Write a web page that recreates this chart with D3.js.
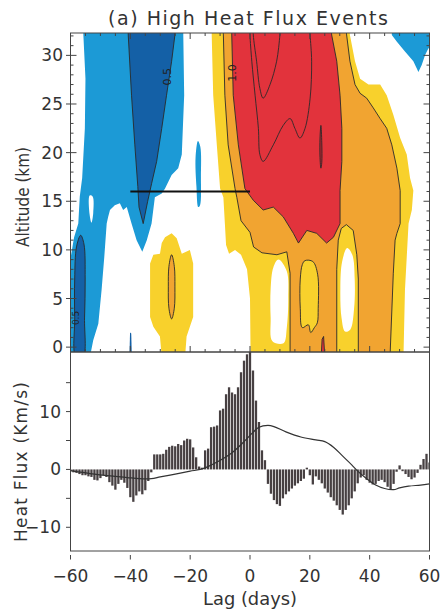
<!DOCTYPE html>
<html><head><meta charset="utf-8">
<script src="https://cdn.jsdelivr.net/npm/d3@7"></script>
<style>body{margin:0;background:#fff}svg{display:block}</style>
</head><body>
<svg id="c" width="442" height="612"></svg>
<script>
// ---------- DATA ----------
const lags = d3.range(-60, 61);
const heatFlux = [
 -0.3,-0.5,-0.6,-0.8,-1.0,-1.0,-1.2,-1.3,-1.8,-1.9,-1.5,-1.0,-1.3,-2.2,-2.8,-3.5,-2.5,-1.8,-2.3,-3.2,
 -4.8,-5.6,-4.5,-3.8,-4.3,-3.6,-2.0,-0.5,
 2.6,2.6,2.6,2.7,3.4,3.9,4.1,4.0,4.4,4.2,5.0,5.3,5.2,3.8,2.1,0.5,0.3,
 3.3,3.6,7.3,7.4,7.6,10.2,10.5,13.0,14.2,13.3,13.0,14.2,16.8,18.8,19.9,20.3,
 17.1,11.9,8.2,3.3,1.6,
 -2.5,-4.2,-5.3,-6.0,-6.3,-5.0,-4.3,-3.8,-3.3,-2.8,-2.4,-2.0,-1.6,0.3,-1.0,-2.6,-1.2,-1.8,-2.4,-3.3,
 -4.0,-4.8,-5.4,-6.2,-7.0,-7.8,-7.0,-6.2,-5.0,-3.8,-2.4,-1.4,-1.0,-1.8,-2.3,-2.6,-2.5,-2.0,-1.8,-2.2,
 -3.0,-3.5,-2.5,-0.4,0.7,-0.3,-0.8,-1.3,-1.7,-1.4,-0.6,0.8,1.8,2.7,1.2
];
const meanLine = [[-60,-0.2],[-52,-0.8],[-45,-1.2],[-41,-1.4],[-37,-1.6],[-33,-1.6],[-30,-1.3],[-25,-0.8],
 [-20,-0.3],[-16,0.1],[-11,1.3],[-6,2.9],[-2,4.8],[1,6.4],[3,7.3],[6,7.6],[8,7.4],[12,6.5],[17,5.6],
 [22,5.1],[25,4.8],[28,3.8],[31,2.3],[34,0.8],[36,-0.3],[39,-1.6],[42,-2.7],[45,-3.3],[48,-3.5],
 [50,-3.2],[53,-2.9],[57,-2.7],[60,-2.5]];
const lagTicks = [-60,-40,-20,0,20,40,60];
const altTicks = [0,5,10,15,20,25,30];
const fluxTicks = [-10,0,10];

// contour regions [lag, altitude]
const lightBlueLeft = [[-55.7,33],[-22.3,33],[-22.3,32.1],[-22.0,25.9],[-22.8,19.8],[-24,18.4],[-26.2,17.7],[-28.4,16.3],[-29.5,15.8],[-31.8,15.4],[-32.9,12.7],[-34.5,11],[-36,9.8],[-37.9,11],[-39.6,12.7],[-41.2,14.4],[-42.4,14.1],[-43.5,14.8],[-45.2,14.6],[-46.8,14.1],[-47.4,13.4],[-47.9,12.7],[-48.7,9.3],[-49.6,5.9],[-50.7,2.4],[-52.4,0.7],[-53.5,-1],[-61,-1],[-61,9.3],[-59.9,9.3],[-58.8,11.3],[-57.4,12.7],[-56.9,15.5],[-56.1,17.4],[-55.2,22.5],[-55,27.6],[-55.7,32.1]];
const whiteNotch = [[-53.6,15.6],[-52.6,15.5],[-52.4,13.8],[-53,12.8],[-53.6,13.6]];
const lightBlueSliver = [[-17.4,21.2],[-16.6,20.6],[-16.4,17.5],[-16.7,14.6],[-17.3,14.4],[-17.9,16.5],[-18.2,19.5]];
const lightBlueCorner = [[47.4,33],[47.4,32.1],[49.1,31.4],[51.8,30.4],[54.6,29.4],[56.3,28.3],[57.4,29],[58.5,30],[59.6,30.7],[61,31],[61,33]];
const darkBlueUpper = [[-25,33],[-25.1,32.1],[-26.2,29.4],[-27.9,25.9],[-29.5,22.5],[-31.2,19.1],[-32.9,16.8],[-34.2,15],[-35.7,12.7],[-37.1,14.4],[-37.5,16.5],[-38.5,20.8],[-39.6,25.9],[-40.7,32.1],[-40.7,33]];
const darkBlueLow = [[-56.6,11.5],[-55.5,10.6],[-55.1,7],[-55.3,3],[-55.8,-1],[-58.2,-1],[-58.6,3],[-58.6,7],[-58.0,10.3]];
const darkBlueSpike = [[-40.3,-1],[-40.1,1.5],[-39.7,1.4],[-39.5,-1]];
const yellowMain = [[-12.8,33],[-12.8,32.1],[-12.3,25.9],[-11.1,20.8],[-10,16.3],[-8.9,15.4],[-8.4,12.7],[-8,10.5],[-7,9.6],[-5,10],[-3,9.5],[-1,8],[0,5],[0.2,-1],[51.3,-1],[51.8,5.9],[52.4,9.3],[53,12.7],[54.1,14.1],[54.6,16.1],[53.5,17.4],[52.4,19.8],[50.2,21.5],[47.9,23.9],[45.7,25.9],[43.5,27],[39.6,27],[36.8,27.6],[35.1,29.4],[33.4,32.1],[33.2,33]];
const whiteHoleA = [[9.5,9],[12.3,7.8],[12.8,5],[12.3,2],[11.2,0.4],[7.5,0.6],[6.9,3],[6.9,6],[7.8,8.2]];
const yellowLobe = [[-26.2,11.7],[-24.5,11.2],[-22.8,9.6],[-20.1,10],[-19,8.6],[-19,3.1],[-20.1,2.1],[-21.2,1.1],[-21.7,-1],[-29.5,-1],[-30.1,1.1],[-32.3,2.1],[-33.4,3.1],[-33.4,8.6],[-32.3,9.5],[-30.1,9.6],[-29.5,10.7],[-28.4,11.3]];
const orangeLobe = [[-26.2,9.5],[-25.3,8.3],[-25.1,6.2],[-25.3,4],[-26.2,2.9],[-27.1,4],[-27.3,6.2],[-27.1,8.3]];
const orangeMain = [[-9.0,33],[-8.9,32.1],[-8.4,25.9],[-7.3,20.8],[-5,16.3],[-4.4,15.4],[-3,13],[0,11.8],[1.2,10.3],[4,9.7],[9,9.5],[12.3,9.8],[13.4,7.6],[13.4,-1],[46.8,-1],[47.9,7.6],[48.5,11],[49.1,11.7],[50.2,12.7],[50.2,16.1],[49.1,18.4],[47.4,20.8],[45.7,22.5],[43.5,23.5],[41.2,24.6],[39,25.6],[36.8,26.1],[35.1,27],[33.4,29.4],[32.3,32.1],[32,33]];
const redMain = [[-6.1,33],[-6.1,32.1],[-5.6,25.9],[-3.9,20.8],[-1.7,16.3],[1.1,15.1],[4.4,14.1],[7.8,14.4],[11.1,13.4],[14.5,11.7],[16.2,10.7],[19,12],[22.3,11.7],[25.6,10.7],[27.9,11.3],[30.1,12.7],[30.1,16.1],[30.7,19.1],[30.7,22.5],[30.1,25.9],[29,29.4],[27.3,32.1],[27,33]];
const yellowIsland = [[18.4,8.9],[21,8.8],[22.6,7.5],[22.8,4],[22.5,2.5],[21.5,2],[20.3,1.5],[19.5,2.3],[17.5,2],[16.8,4],[16.8,7],[17.5,8.5]];
const yellowRightBand = [[29,-1],[29,8],[29.5,11],[30.5,12.2],[32.2,12.6],[34.5,12],[35.7,9.5],[36.2,7],[36.2,-1]];
const whiteHoleB = [[32.5,10.2],[34.2,9.5],[35,7],[34.8,4],[33.5,1.8],[31.8,1.6],[30.6,3],[30.2,6],[30.8,8.8]];
const redSpike = [[23.8,-1],[24.1,0.8],[24.6,1.1],[25.0,-1]];
const redInner1 = [[0,33],[0,32.1],[0.6,29.4],[1.7,25.9],[2.8,22.5],[3.3,19.8],[4.4,19.1],[7.8,20.8],[11.1,22.8],[13.4,23.5],[15,22.5],[16.7,21.5],[18.4,22.5],[20.1,25.6],[20.6,29.4],[20.1,32.1],[20,33]];
const redInner2 = [[1.1,33],[1.1,32.1],[2.2,29.4],[3.3,26.6],[4.4,25.6],[6.7,27],[8.9,29.4],[10,32.1],[10.2,33]];
const redSliver = [[23.7,22.8],[24,21],[24,19],[23.7,18.4],[23.4,19.5],[23.4,21.5]];
const refLine = [[-40,16],[0,16]];
const contourLabels = [{lag:-27.4,alt:27.8,text:"0.5"},{lag:-5.6,alt:28.2,text:"1.0"},{lag:-58.3,alt:3.0,text:"0.5"}];

// ---------- DRAW ----------
const C = {lb:"#1c9ad6", db:"#1460a6", ye:"#f8d12c", or:"#f1a431", re:"#e2333c", line:"#2a2a2a"};
const FONT = "DejaVu Sans, sans-serif";
const svg = d3.select("#c");
const x = d3.scaleLinear().domain([-60,60]).range([70.5,429.5]);
const yT = d3.scaleLinear().domain([-0.5,32.3]).range([352,33]);
const yB = d3.scaleLinear().domain([-14.1,20.3]).range([551,352]);

const defs = svg.append("defs");
defs.append("clipPath").attr("id","cT").append("rect").attr("x",70.5).attr("y",33).attr("width",359).attr("height",319);
defs.append("clipPath").attr("id","cB").append("rect").attr("x",70.5).attr("y",352).attr("width",359).attr("height",199);

const topG = svg.append("g").attr("clip-path","url(#cT)");
const closedLin = d3.line().x(d=>x(d[0])).y(d=>yT(d[1])).curve(d3.curveLinearClosed);
const closedSm = d3.line().x(d=>x(d[0])).y(d=>yT(d[1])).curve(d3.curveCatmullRomClosed.alpha(0.5));
const openSm = d3.line().x(d=>x(d[0])).y(d=>yT(d[1])).curve(d3.curveCatmullRom.alpha(0.5));

function region(data, fill, stroke, smooth){
  topG.append("path").attr("d",(smooth?closedSm:closedLin)(data)).attr("fill",fill)
    .attr("stroke",stroke||"none").attr("stroke-width",0.9).attr("stroke-linejoin","round");
}
region(lightBlueLeft, C.lb);
region(whiteNotch, "#fff", null, true);
region(lightBlueSliver, C.lb, null, true);
region(lightBlueCorner, C.lb);
region(darkBlueUpper, C.db, C.line);
region(darkBlueLow, C.db, C.line, true);
region(darkBlueSpike, C.db);
region(yellowMain, C.ye);
region(whiteHoleA, "#fff", null, true);
region(yellowLobe, C.ye);
region(orangeLobe, C.or, C.line, true);
region(orangeMain, C.or, C.line);
region(redMain, C.re, C.line);
region(yellowIsland, C.ye, C.line, true);
region(yellowRightBand, C.ye, C.line);
region(whiteHoleB, "#fff", null, true);
region(redSpike, C.re, C.line);
[redInner1, redInner2].forEach(d=>topG.append("path").attr("d",openSm(d)).attr("fill","none").attr("stroke",C.line).attr("stroke-width",0.9));
region(redSliver, "#b8202a", C.line, true);
topG.append("path").attr("d",d3.line().x(d=>x(d[0])).y(d=>yT(d[1]))(refLine)).attr("stroke","#111").attr("stroke-width",2);
contourLabels.forEach(l=>topG.append("text").attr("transform",`translate(${x(l.lag)+3},${yT(l.alt)}) rotate(-90)`)
  .attr("text-anchor","middle").attr("font-family",FONT).attr("font-size",l.lag<-50?9:11).attr("fill","#222").text(l.text));

// frame & ticks top panel
const axisCol = "#444";
svg.append("rect").attr("x",70.5).attr("y",33).attr("width",359).attr("height",319).attr("fill","none").attr("stroke",axisCol).attr("stroke-width",1);
const tk = svg.append("g").attr("stroke",axisCol).attr("stroke-width",1);
d3.range(0,33,1).forEach(a=>{
  const yy = yT(a), maj = a%5===0;
  tk.append("line").attr("x1",70.5).attr("x2",70.5+(maj?6:3)).attr("y1",yy).attr("y2",yy);
  tk.append("line").attr("x1",429.5).attr("x2",429.5-(maj?6:3)).attr("y1",yy).attr("y2",yy);
  if(maj) tk.append("line").attr("x1",66).attr("x2",70.5).attr("y1",yy).attr("y2",yy);
});
d3.range(-60,61,5).forEach(l=>{
  const xx = x(l), maj = l%20===0;
  tk.append("line").attr("x1",xx).attr("x2",xx).attr("y1",33).attr("y2",33+(maj?6:3));
  tk.append("line").attr("x1",xx).attr("x2",xx).attr("y1",352).attr("y2",352-(maj?6:3));
});
svg.append("g").selectAll("text").data(altTicks).join("text")
  .attr("x",63).attr("y",d=>yT(d)+6).attr("text-anchor","end").attr("font-family",FONT).attr("font-size",17).attr("fill","#333").text(d=>d);

// bottom panel
const botG = svg.append("g").attr("clip-path","url(#cB)");
const step = x(1)-x(0);
botG.selectAll("rect").data(lags).join("rect")
  .attr("x",(d)=>x(d)-step/2+0.35).attr("width",step-0.7)
  .attr("y",(d,i)=>yB(Math.max(0,heatFlux[i]))).attr("height",(d,i)=>Math.abs(yB(heatFlux[i])-yB(0)))
  .attr("fill","#474042");
botG.append("path").attr("d",d3.line().x(d=>x(d[0])).y(d=>yB(d[1])).curve(d3.curveCatmullRom.alpha(0.5))(meanLine))
  .attr("fill","none").attr("stroke","#333").attr("stroke-width",1.2);
svg.append("rect").attr("x",70.5).attr("y",352).attr("width",359).attr("height",199).attr("fill","none").attr("stroke",axisCol).attr("stroke-width",1);
[-10,-5,0,5,10,15].forEach(v=>tk.append("line").attr("x1",66).attr("x2",70.5).attr("y1",yB(v)).attr("y2",yB(v)));
lagTicks.forEach(l=>tk.append("line").attr("x1",x(l)).attr("x2",x(l)).attr("y1",555).attr("y2",559.5));
svg.append("g").selectAll("text").data(fluxTicks).join("text")
  .attr("x",61).attr("y",d=>yB(d)+6).attr("text-anchor","end").attr("font-family",FONT).attr("font-size",17).attr("fill","#333")
  .text(d=>d<0?"\u2212"+Math.abs(d):d);
svg.append("g").selectAll("text").data(lagTicks).join("text")
  .attr("x",d=>x(d)).attr("y",582).attr("text-anchor","middle").attr("font-family",FONT).attr("font-size",17).attr("fill","#333")
  .text(d=>d<0?"\u2212"+Math.abs(d):d);

// titles
svg.append("text").attr("x",248).attr("y",25).attr("text-anchor","middle").attr("font-family",FONT).attr("font-size",19)
  .attr("fill","#333").attr("textLength",280).attr("lengthAdjust","spacing").text("(a) High Heat Flux Events");
svg.append("text").attr("transform","translate(29,197) rotate(-90)").attr("text-anchor","middle").attr("font-family",FONT)
  .attr("font-size",17).attr("fill","#333").attr("textLength",100).attr("lengthAdjust","spacingAndGlyphs").text("Altitude (km)");
svg.append("text").attr("transform","translate(27,462) rotate(-90)").attr("text-anchor","middle").attr("font-family",FONT)
  .attr("font-size",17).attr("fill","#333").attr("textLength",160).attr("lengthAdjust","spacing").text("Heat Flux (Km/s)");
svg.append("text").attr("x",250).attr("y",605).attr("text-anchor","middle").attr("font-family",FONT)
  .attr("font-size",17).attr("fill","#333").attr("textLength",94).attr("lengthAdjust","spacingAndGlyphs").text("Lag (days)");
</script>
</body></html>
